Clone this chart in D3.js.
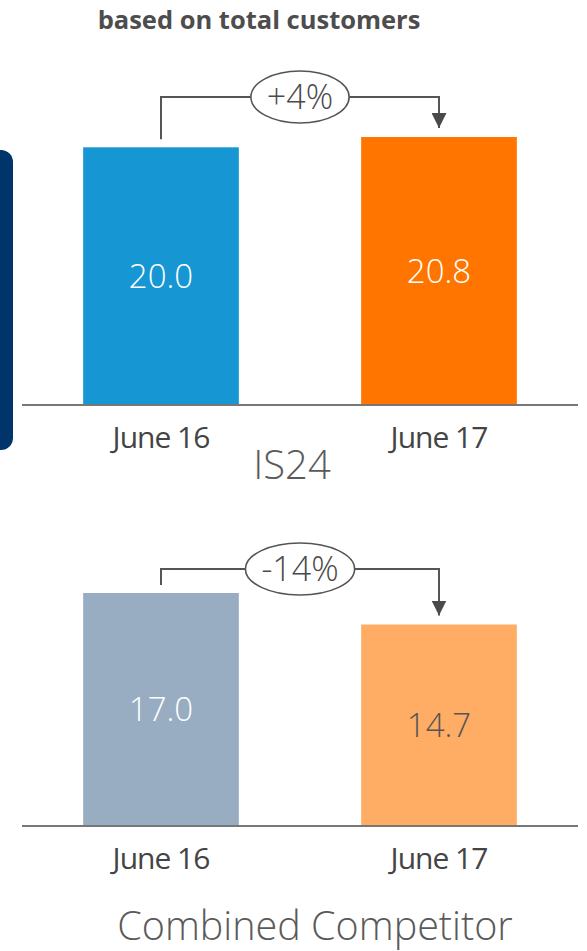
<!DOCTYPE html>
<html lang="en">
<head>
<meta charset="utf-8">
<title>Customers: IS24 vs Combined Competitor</title>
<script src="https://cdn.jsdelivr.net/npm/d3@7"></script>
<style>
  body { margin: 0; background: #fff; }
  svg { display: block; font-family: "Open Sans", sans-serif; }
</style>
</head>
<body>
<script>
// data
var categories = ["June 16", "June 17"];
var is24Values = [20.0, 20.8];
var competitorValues = [17.0, 14.7];
var changeLabels = ["+4%", "-14%"];
var panelTitles = ["IS24", "Combined Competitor"];
var headline = "based on total customers";

var w = 587, h = 951;

// layout for each panel (pixels, colours)
var panels = [
  { values: is24Values, change: changeLabels[0], title: panelTitles[0],
    base: 405, top: 137, annY: 97, titleX: 292, titleY: 479, titleSize: 40,
    colors: ["#1696d2", "#ff7500"], labelColors: ["#fff", "#fff"] },
  { values: competitorValues, change: changeLabels[1], title: panelTitles[1],
    base: 826, top: 593, annY: 569, titleX: 315, titleY: 940, titleSize: 39.5,
    colors: ["#98adc2", "#ffac64"], labelColors: ["#fff", "#555"] }
];

var svg = d3.select("body").append("svg")
  .attr("width", w)
  .attr("height", h);

svg.append("defs").append("marker")
  .attr("id", "arrow")
  .attr("viewBox", "0 0 10 10")
  .attr("refX", 10).attr("refY", 5)
  .attr("markerUnits", "userSpaceOnUse")
  .attr("markerWidth", 15).attr("markerHeight", 15)
  .attr("orient", "auto")
  .append("path")
  .attr("d", "M0,0L10,5L0,10Z")
  .attr("fill", "#4a4a4a");

// navy tab on the left edge
svg.append("rect")
  .attr("x", -20).attr("y", 150)
  .attr("width", 33).attr("height", 300)
  .attr("rx", 12)
  .attr("fill", "#00356b");

svg.append("text")
  .attr("x", 259).attr("y", 29)
  .attr("text-anchor", "middle")
  .attr("font-size", 25.5)
  .attr("font-weight", 700)
  .attr("fill", "#4d4d4d")
  .text(headline);

var x = d3.scaleBand()
  .domain(categories)
  .range([22, 578])
  .paddingInner(0.44)
  .paddingOuter(0.22);

panels.forEach(function(p) {
  var y = d3.scaleLinear()
    .domain([0, d3.max(p.values)])
    .range([p.base, p.top]);

  var g = svg.append("g");

  g.selectAll("rect.bar")
    .data(p.values)
    .enter()
    .append("rect")
    .attr("class", "bar")
    .attr("x", function(d, i) { return x(categories[i]); })
    .attr("y", function(d) { return y(d); })
    .attr("width", x.bandwidth())
    .attr("height", function(d) { return y(0) - y(d); })
    .attr("fill", function(d, i) { return p.colors[i]; });

  g.selectAll("text.val")
    .data(p.values)
    .enter()
    .append("text")
    .attr("class", "val")
    .attr("x", function(d, i) { return x(categories[i]) + x.bandwidth() / 2; })
    .attr("y", function(d) { return (y(d) + y(0)) / 2; })
    .attr("dy", "0.36em")
    .attr("text-anchor", "middle")
    .attr("font-size", 33)
    .attr("font-weight", 300)
    .attr("fill", function(d, i) { return p.labelColors[i]; })
    .text(function(d) { return d3.format(".1f")(d); });

  // baseline axis
  var axis = g.append("g")
    .attr("transform", "translate(0," + p.base + ")")
    .call(d3.axisBottom(x).tickSize(0).tickPadding(22));
  axis.select(".domain")
    .attr("d", "M22,0H578")
    .attr("stroke", "#777")
    .attr("stroke-width", 2);
  axis.selectAll(".tick text")
    .attr("font-family", "Open Sans, sans-serif")
    .attr("font-size", 30)
    .attr("fill", "#444")
    .attr("letter-spacing", -1)
    .attr("dy", "0.71em");

  // change bracket
  var x0 = x(categories[0]) + x.bandwidth() / 2;
  var x1 = x(categories[1]) + x.bandwidth() / 2;
  g.append("path")
    .attr("d", "M" + x0 + "," + (y(p.values[0]) - 8) +
               "V" + p.annY + "H" + x1 + "V" + (y(p.values[1]) - 9))
    .attr("fill", "none")
    .attr("stroke", "#555")
    .attr("stroke-width", 2)
    .attr("marker-end", "url(#arrow)");

  var cx = (x0 + x1) / 2;
  var ellipse = g.append("ellipse")
    .attr("cx", cx).attr("cy", p.annY)
    .attr("ry", 26)
    .attr("fill", "#fff")
    .attr("stroke", "#555")
    .attr("stroke-width", 1.6);
  var label = g.append("text")
    .attr("x", cx).attr("y", p.annY)
    .attr("dy", "0.36em")
    .attr("text-anchor", "middle")
    .attr("font-size", 34)
    .attr("font-weight", 300)
    .attr("fill", "#4a4a4a")
    .text(p.change);
  var tw = label.node().getComputedTextLength();
  ellipse.attr("rx", tw / 2 + 16);

  svg.append("text")
    .attr("x", p.titleX).attr("y", p.titleY)
    .attr("text-anchor", "middle")
    .attr("font-size", p.titleSize)
    .attr("font-weight", 300)
    .attr("fill", "#5a5a5a")
    .text(p.title);
});
</script>
</body>
</html>
